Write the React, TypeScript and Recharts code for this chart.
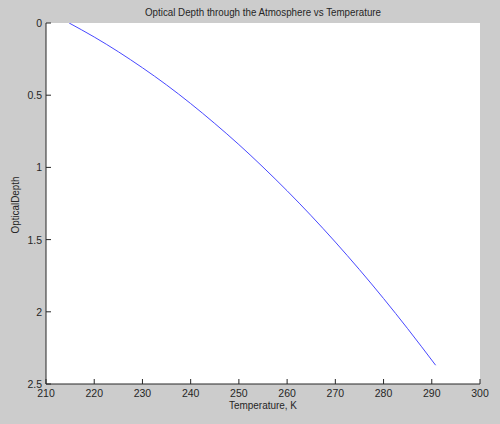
import React from 'react';
import { LineChart, Line, XAxis, YAxis } from 'recharts';

// values (temperature in K, optical depth)
const temperature = [214.8, 220, 225, 230, 235, 240, 245, 250, 255, 260, 265, 270, 275, 280, 285, 290.8];
const opticalDepth = [0, 0.097, 0.199, 0.31, 0.429, 0.558, 0.696, 0.842, 0.998, 1.162, 1.335, 1.517, 1.708, 1.908, 2.117, 2.37];

const xTicks = [210, 220, 230, 240, 250, 260, 270, 280, 290, 300];
const yTicks = [0, 0.5, 1, 1.5, 2, 2.5];

const data = temperature.map((t, i) => ({ t, d: opticalDepth[i] }));

const FONT = '"Liberation Sans", Arial, sans-serif';
const INK = '#262626';
const TICK = 5;
const PLOT_CX = 263; // centre of the plot box, for the title

const BottomTick = ({ x, y, payload }: any) => (
  <g>
    <line x1={x} x2={x} y1={y} y2={y - TICK} stroke={INK} />
    <text x={x} y={y + 12.5} textAnchor="middle" fontSize={10.5} fontFamily={FONT} fill={INK}>
      {payload.value}
    </text>
  </g>
);

const TopTick = ({ x, y }: any) => <line x1={x} x2={x} y1={y} y2={y + TICK} stroke={INK} />;

const LeftTick = ({ x, y, payload }: any) => (
  <g>
    <line x1={x} x2={x + TICK} y1={y} y2={y} stroke={INK} />
    <text x={x - 4} y={y + 4} textAnchor="end" fontSize={10.5} fontFamily={FONT} fill={INK}>
      {payload.value}
    </text>
  </g>
);

const RightTick = ({ x, y }: any) => <line x1={x} x2={x - TICK} y1={y} y2={y} stroke={INK} />;

const XTitle = ({ viewBox }: any) => (
  <text
    x={viewBox.x + viewBox.width / 2}
    y={viewBox.y + viewBox.height - 15}
    textAnchor="middle"
    fontSize={11}
    fontFamily={FONT}
    fill={INK}
    textLength={68}
    lengthAdjust="spacingAndGlyphs"
  >
    Temperature, K
  </text>
);

// y label plus the chart title (the title is drawn from here so it always renders)
const YTitle = ({ viewBox }: any) => {
  const cx = 15;
  const cy = viewBox.y + viewBox.height / 2 + 1.5;
  return (
    <g>
      <text
        x={cx}
        y={cy}
        transform={`rotate(-90, ${cx}, ${cy})`}
        textAnchor="middle"
        dominantBaseline="central"
        fontSize={11}
        fontFamily={FONT}
        fill={INK}
        textLength={57}
        lengthAdjust="spacingAndGlyphs"
      >
        OpticalDepth
      </text>
      <text
        x={PLOT_CX}
        y={viewBox.y - 7}
        textAnchor="middle"
        fontSize={11}
        fontFamily={FONT}
        fill={INK}
        textLength={236}
        lengthAdjust="spacingAndGlyphs"
      >
        Optical Depth through the Atmosphere vs Temperature
      </text>
    </g>
  );
};

export default function App() {
  return (
    <div style={{ position: 'fixed', left: 0, top: 0, width: 500, height: 424, background: '#cccccc' }}>
      <LineChart width={500} height={424} data={data} margin={{ top: 23, right: 20, left: 0, bottom: 0 }}>
        <rect x={46} y={23} width={434} height={361} fill="#ffffff" />
        <XAxis
          dataKey="t"
          type="number"
          domain={[210, 300]}
          ticks={xTicks}
          height={40}
          tickSize={0}
          tickMargin={0}
          tickLine={false}
          axisLine={{ stroke: INK }}
          tick={<BottomTick />}
          allowDataOverflow
          label={<XTitle />}
        />
        <XAxis
          xAxisId="top"
          orientation="top"
          dataKey="t"
          type="number"
          domain={[210, 300]}
          ticks={xTicks}
          height={0}
          tickSize={0}
          tickMargin={0}
          tickLine={false}
          axisLine={{ stroke: INK }}
          tick={<TopTick />}
          allowDataOverflow
        />
        <YAxis
          type="number"
          domain={[0, 2.5]}
          ticks={yTicks}
          reversed
          width={46}
          tickSize={0}
          tickMargin={0}
          tickLine={false}
          axisLine={{ stroke: INK }}
          tick={<LeftTick />}
          allowDataOverflow
          label={<YTitle />}
        />
        <YAxis
          yAxisId="right"
          orientation="right"
          type="number"
          domain={[0, 2.5]}
          ticks={yTicks}
          reversed
          width={0}
          tickSize={0}
          tickMargin={0}
          tickLine={false}
          axisLine={{ stroke: INK }}
          tick={<RightTick />}
          allowDataOverflow
        />
        <Line type="monotone" dataKey="d" stroke="#4848ff" strokeWidth={1} dot={false} isAnimationActive={false} />
      </LineChart>
    </div>
  );
}
